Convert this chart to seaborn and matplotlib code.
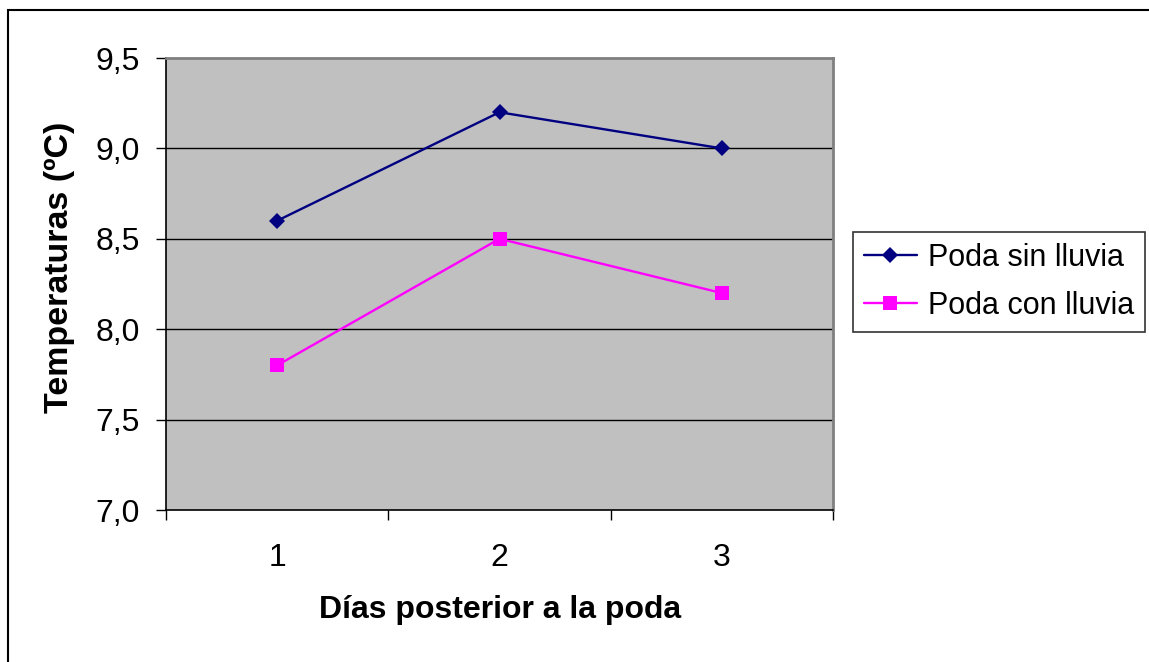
import matplotlib
matplotlib.use("Agg")
import matplotlib.pyplot as plt
from matplotlib.ticker import FixedLocator, FuncFormatter
from matplotlib.lines import Line2D
from matplotlib.patches import Rectangle
import seaborn as sns
import pandas as pd

dias = [1, 2, 3]
sin_lluvia = [8.6, 9.2, 9.0]
con_lluvia = [7.8, 8.5, 8.2]
series = ["Poda sin lluvia", "Poda con lluvia"]
colores = ["#000080", "#FF00FF"]
marcadores = ["D", "s"]

df = pd.DataFrame({
    "dia": dias * 2,
    "temp": sin_lluvia + con_lluvia,
    "serie": [series[0]] * 3 + [series[1]] * 3,
})

sns.set_theme(style="white")
plt.rcParams["font.family"] = ["Liberation Sans", "DejaVu Sans"]
plt.rcParams["text.color"] = "black"

fig = plt.figure(figsize=(11.49, 6.62), dpi=100)
ax = fig.add_axes([166 / 1149, 1 - 510 / 662, 667 / 1149, 452 / 662])
ax.set_facecolor("#C0C0C0")

# outer chart frame
fig.patches.append(Rectangle((8 / 1149, -0.05), 1.2, 1 - 10 / 662 + 0.05,
                             transform=fig.transFigure, fill=False,
                             edgecolor="black", linewidth=1.5))

sns.lineplot(data=df, x="dia", y="temp", hue="serie", style="serie",
             palette=dict(zip(series, colores)),
             markers=dict(zip(series, marcadores)), dashes=False,
             linewidth=1.7, markersize=9, markeredgewidth=0, ax=ax,
             legend=False, zorder=3)
for ln, m in zip(ax.lines, marcadores):
    ln.set_markersize(10 if m == "s" else 8.5)

ax.set_xlim(0.5, 3.5)
ax.set_ylim(7.0, 9.5)

# category boundaries as tick marks, labels at category centres
ax.xaxis.set_major_locator(FixedLocator([0.5, 1.5, 2.5, 3.5]))
ax.xaxis.set_major_formatter(FuncFormatter(lambda v, p: ""))
ax.xaxis.set_minor_locator(FixedLocator(dias))
ax.xaxis.set_minor_formatter(FuncFormatter(lambda v, p: f"{int(v)}"))
ax.tick_params(axis="x", which="major", direction="out", length=7,
               width=1, color="black", bottom=True)
ax.tick_params(axis="x", which="minor", length=0, pad=24, labelsize=23,
               labelcolor="black", bottom=True)

ax.yaxis.set_major_locator(FixedLocator([7.0, 7.5, 8.0, 8.5, 9.0, 9.5]))
ax.yaxis.set_major_formatter(FuncFormatter(lambda v, p: f"{v:.1f}".replace(".", ",")))
ax.tick_params(axis="y", which="major", direction="out", length=7, width=1,
               color="black", pad=12, labelsize=23, labelcolor="black", left=True)

ax.grid(False)
for yv in [7.5, 8.0, 8.5, 9.0]:
    ax.axhline(yv, color="black", linewidth=1, zorder=1)

ax.spines["left"].set_color("black")
ax.spines["bottom"].set_color("black")
ax.spines["left"].set_linewidth(1.2)
ax.spines["bottom"].set_linewidth(1.2)
ax.spines["top"].set_color("#808080")
ax.spines["right"].set_color("#808080")
ax.spines["top"].set_linewidth(2)
ax.spines["right"].set_linewidth(2)

ax.set_xlabel("")
ax.set_ylabel("")
fig.text(500 / 1149, 1 - 610 / 662, "Días posterior a la poda", ha="center",
         va="center", fontsize=23, fontweight="bold", color="black")
fig.text(60 / 1149, 1 - 267 / 662, "Temperaturas (ºC)", ha="center",
         va="center", rotation=90, fontsize=24.5, fontweight="bold", color="black")

handles = [Line2D([], [], color=c, marker=m, linewidth=1.7,
                  markersize=(8.5 if m == "D" else 10), markeredgewidth=0)
           for c, m in zip(colores, marcadores)]
leg = fig.legend(handles, series, loc="upper left",
                 bbox_to_anchor=(853 / 1149, 1 - 232 / 662),
                 frameon=True, fancybox=False, fontsize=22, handlelength=1.75,
                 handletextpad=0.35, borderpad=0.35, labelspacing=0.6,
                 borderaxespad=0)
leg.get_frame().set_edgecolor("black")
leg.get_frame().set_linewidth(1.2)
for t in leg.get_texts():
    t.set_color("black")

fig.savefig("out.png", dpi=100, facecolor="white")
